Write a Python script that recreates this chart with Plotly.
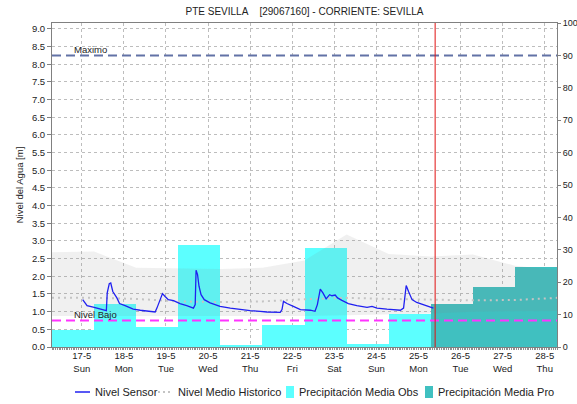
import plotly.graph_objects as go
import pandas as pd

TITLE = "PTE SEVILLA\u00a0\u00a0\u00a0\u00a0[29067160] - CORRIENTE: SEVILLA"
FONT = "Liberation Sans, Arial, sans-serif"

X_START = "2020-05-16 07:00"
X_END = "2020-05-28 07:00"
NOW = "2020-05-25 09:30"

NIVEL_MAXIMO = 8.25   # m
NIVEL_BAJO = 0.75     # m
LEVEL_MAX = 9.1667    # left axis top (m); right axis shares it as 100 mm
PRECIP_MAX = 100

# day ticks
tick_days = pd.date_range("2020-05-17", "2020-05-28", freq="D")

# daily precipitation, each value covers 07:00 -> 07:00 of the next day
obs_start = ["2020-05-16 07:00", "2020-05-17 07:00", "2020-05-18 07:00",
             "2020-05-19 07:00", "2020-05-20 07:00", "2020-05-21 07:00",
             "2020-05-22 07:00", "2020-05-23 07:00", "2020-05-24 07:00"]
obs_mm = [5.3, 13.3, 6.1, 31.5, 0.7, 6.9, 30.7, 0.9, 10.3]

pro_start = ["2020-05-25 07:00", "2020-05-26 07:00", "2020-05-27 07:00"]
pro_mm = [13.3, 18.4, 24.8]

# historic level envelope and mean
hist_time = ["2020-05-16 07:00", "2020-05-17 07:00", "2020-05-18 07:00",
             "2020-05-19 07:00", "2020-05-20 07:00", "2020-05-21 07:00",
             "2020-05-22 07:00", "2020-05-23 07:00", "2020-05-24 07:00",
             "2020-05-25 07:00", "2020-05-26 07:00", "2020-05-27 07:00",
             "2020-05-28 07:00"]
hist_max = [2.68, 2.70, 2.24, 2.22, 2.21, 2.24, 2.45, 3.18, 2.63, 2.56, 2.62, 2.30, 2.18]
hist_min = [0.88, 0.88, 0.87, 0.86, 0.87, 0.87, 0.88, 0.90, 0.92, 0.95, 1.00, 1.02, 1.02]
hist_mean = [1.39, 1.39, 1.36, 1.29, 1.27, 1.29, 1.35, 1.39, 1.36, 1.33, 1.32, 1.33, 1.39]

# water level from the sensor
sensor_time = [
    "2020-05-17 00:30", "2020-05-17 03:00", "2020-05-17 06:30", "2020-05-17 10:30",
    "2020-05-17 14:00", "2020-05-17 14:30", "2020-05-17 15:40", "2020-05-17 16:30",
    "2020-05-17 17:40", "2020-05-17 20:00", "2020-05-17 21:30", "2020-05-18 00:40",
    "2020-05-18 05:20", "2020-05-18 09:20", "2020-05-18 13:00", "2020-05-18 17:50",
    "2020-05-18 18:50", "2020-05-18 20:40", "2020-05-18 22:00", "2020-05-18 23:30",
    "2020-05-19 01:20", "2020-05-19 04:20", "2020-05-19 08:00", "2020-05-19 11:50",
    "2020-05-19 15:40", "2020-05-19 16:40", "2020-05-19 17:10", "2020-05-19 18:00",
    "2020-05-19 18:50", "2020-05-19 20:00", "2020-05-19 21:50", "2020-05-20 01:10",
    "2020-05-20 06:50", "2020-05-20 12:40", "2020-05-20 18:20", "2020-05-21 00:00",
    "2020-05-21 05:40", "2020-05-21 09:40", "2020-05-21 17:10", "2020-05-21 18:10",
    "2020-05-21 19:00", "2020-05-21 21:00", "2020-05-22 00:40", "2020-05-22 04:40",
    "2020-05-22 10:20", "2020-05-22 13:00", "2020-05-22 14:20", "2020-05-22 16:00",
    "2020-05-22 17:30", "2020-05-22 19:20", "2020-05-22 21:20", "2020-05-22 22:40",
    "2020-05-23 00:30", "2020-05-23 01:50", "2020-05-23 04:20", "2020-05-23 08:00",
    "2020-05-23 12:50", "2020-05-23 18:40", "2020-05-23 21:30", "2020-05-24 00:20",
    "2020-05-24 06:00", "2020-05-24 13:40", "2020-05-24 15:30", "2020-05-24 17:00",
    "2020-05-24 18:20", "2020-05-24 20:20", "2020-05-24 23:00", "2020-05-25 02:50",
    "2020-05-25 06:40", "2020-05-25 08:30",
]
sensor_m = [
    1.34, 1.17, 1.13, 1.08,
    1.03, 1.53, 1.79, 1.81,
    1.57, 1.39, 1.23, 1.17,
    1.07, 1.04, 1.01, 0.99,
    1.10, 1.34, 1.51, 1.43,
    1.34, 1.31, 1.23, 1.17,
    1.10, 1.20, 2.17, 2.05,
    1.72, 1.48, 1.34, 1.25,
    1.15, 1.10, 1.06, 1.03,
    1.01, 0.99, 0.98, 1.06,
    1.29, 1.23, 1.15, 1.06,
    1.04, 1.01, 1.20, 1.64,
    1.53, 1.36, 1.48, 1.45,
    1.47, 1.39, 1.32, 1.23,
    1.17, 1.12, 1.15, 1.10,
    1.07, 1.04, 1.10, 1.74,
    1.57, 1.34, 1.26, 1.20,
    1.13, 1.10,
]

SENSOR_COLOR = "#2020F0"
MEAN_COLOR = "#C4C4C4"
OBS_COLOR = "#5CFFFF"
PRO_COLOR = "#40C0C0"
TEXT_COLOR = "#222222"
DAY_MS = 86400000

W, H = 577, 404
M_L, M_R, M_T, M_B = 52, 20, 23, 57
PLOT_W = W - M_L - M_R
PLOT_H = H - M_T - M_B


def px_x(px):
    return (px - M_L) / PLOT_W


def px_y(py):
    return (H - M_B - py) / PLOT_H


fig = go.Figure()

# precipitation bars on the right-hand (mm) axis, drawn underneath
fig.add_trace(go.Bar(
    x=obs_start, y=obs_mm, width=DAY_MS, offset=0,
    marker=dict(color=OBS_COLOR, line=dict(width=0)),
    name="Precipitación Media Obs", yaxis="y",
))
fig.add_trace(go.Bar(
    x=pro_start, y=pro_mm, width=DAY_MS, offset=0,
    marker=dict(color=PRO_COLOR, line=dict(width=0)),
    name="Precipitación Media Pro", yaxis="y",
))

# historic envelope on the level (m) axis
fig.add_trace(go.Scatter(
    x=hist_time, y=hist_min, mode="lines", line=dict(width=0),
    hoverinfo="skip", yaxis="y2",
))
fig.add_trace(go.Scatter(
    x=hist_time, y=hist_max, mode="lines", line=dict(width=0),
    fill="tonexty", fillcolor="rgba(128,128,128,0.12)",
    hoverinfo="skip", yaxis="y2",
))
fig.add_trace(go.Scatter(
    x=hist_time, y=hist_mean, mode="lines",
    line=dict(color=MEAN_COLOR, width=2, dash="2px,4px"),
    name="Nivel Medio Historico", yaxis="y2",
))
fig.add_trace(go.Scatter(
    x=sensor_time, y=sensor_m, mode="lines",
    line=dict(color=SENSOR_COLOR, width=1.3),
    name="Nivel Sensor", yaxis="y2",
))

# reference levels and the current time
fig.add_shape(type="line", xref="paper", x0=0, x1=1, yref="y2",
              y0=NIVEL_MAXIMO, y1=NIVEL_MAXIMO,
              line=dict(color="#6272A6", width=2, dash="9px,5px"))
fig.add_shape(type="line", xref="paper", x0=0, x1=1, yref="y2",
              y0=NIVEL_BAJO, y1=NIVEL_BAJO,
              line=dict(color="#FF33FF", width=2, dash="9px,5px"))
fig.add_shape(type="line", xref="x", x0=NOW, x1=NOW, yref="paper",
              y0=0, y1=1, line=dict(color="#E01010", width=1))

fig.add_annotation(text="Maximo", xref="paper", x=px_x(72), yref="y2", y=NIVEL_MAXIMO,
                   xanchor="left", yanchor="bottom", showarrow=False,
                   font=dict(size=9.5, color=TEXT_COLOR), yshift=-2)
fig.add_annotation(text="Nivel Bajo", xref="paper", x=px_x(72), yref="y2", y=NIVEL_BAJO,
                   xanchor="left", yanchor="bottom", showarrow=False,
                   font=dict(size=9.5, color=TEXT_COLOR), yshift=-2)

# legend row under the chart
LEG_Y = 392
LEG_FONT = dict(size=11, color=TEXT_COLOR)
legend_entries = [
    ("line", SENSOR_COLOR, None, 75, "Nivel Sensor"),
    ("line", MEAN_COLOR, "2px,3px", 158, "Nivel Medio Historico"),
    ("box", OBS_COLOR, None, 286, "Precipitación Media Obs"),
    ("box", PRO_COLOR, None, 425, "Precipitación Media Pro"),
]
for kind, color, dash, x0, label in legend_entries:
    if kind == "line":
        fig.add_shape(type="line", xref="paper", yref="paper",
                      x0=px_x(x0), x1=px_x(x0 + 15), y0=px_y(LEG_Y), y1=px_y(LEG_Y),
                      line=dict(color=color, width=1.5 if dash is None else 2,
                                dash=dash or "solid"))
        tx = x0 + 18
    else:
        fig.add_shape(type="rect", xref="paper", yref="paper",
                      x0=px_x(x0), x1=px_x(x0 + 8), y0=px_y(LEG_Y + 6), y1=px_y(LEG_Y - 6),
                      fillcolor=color, line=dict(width=0))
        tx = x0 + 11
    fig.add_annotation(text=label, xref="paper", yref="paper",
                       x=px_x(tx), y=px_y(LEG_Y), xanchor="left", yanchor="middle",
                       showarrow=False, font=LEG_FONT)

fig.update_layout(
    width=W, height=H,
    margin=dict(l=M_L, r=M_R, t=M_T, b=M_B, autoexpand=False),
    paper_bgcolor="white", plot_bgcolor="white",
    font=dict(family=FONT, size=9, color=TEXT_COLOR),
    title=dict(text=TITLE, x=0.5, xref="paper", xanchor="center",
               y=1 - 11 / H, yref="container", yanchor="middle",
               font=dict(size=10, color=TEXT_COLOR)),
    barmode="overlay", bargap=0,
    showlegend=False,
    xaxis=dict(
        type="date", range=[X_START, X_END],
        tickvals=tick_days, tickformat="%-d-%-m<br>%a",
        ticks="", showgrid=True, gridcolor="#BDBDBD", griddash="dot", gridwidth=1,
        showline=True, linecolor="#808080", linewidth=1, mirror=True,
        minor=dict(ticks="outside", ticklen=2, dtick=3600000, tickcolor="#909090",
                   showgrid=False),
        tickfont=dict(size=9.5, color=TEXT_COLOR), zeroline=False,
    ),
    yaxis=dict(
        side="right", range=[0, PRECIP_MAX], dtick=10,
        ticks="outside", ticklen=3, tickcolor="#808080",
        showgrid=False, zeroline=False,
        showline=True, linecolor="#808080", linewidth=1,
        tickfont=dict(size=9, color=TEXT_COLOR),
    ),
    yaxis2=dict(
        side="left", overlaying="y", range=[0, LEVEL_MAX], dtick=0.5,
        tickformat=".1f", ticks="outside", ticklen=4, tickcolor="#808080",
        showgrid=True, gridcolor="#BDBDBD", griddash="dot", gridwidth=1,
        zeroline=False, showline=True, linecolor="#808080", linewidth=1,
        title=dict(text="Nivel del Agua [m]", font=dict(size=9.5, color=TEXT_COLOR),
                   standoff=6),
        tickfont=dict(size=9.5, color=TEXT_COLOR),
    ),
)

fig.write_html("out.html")
